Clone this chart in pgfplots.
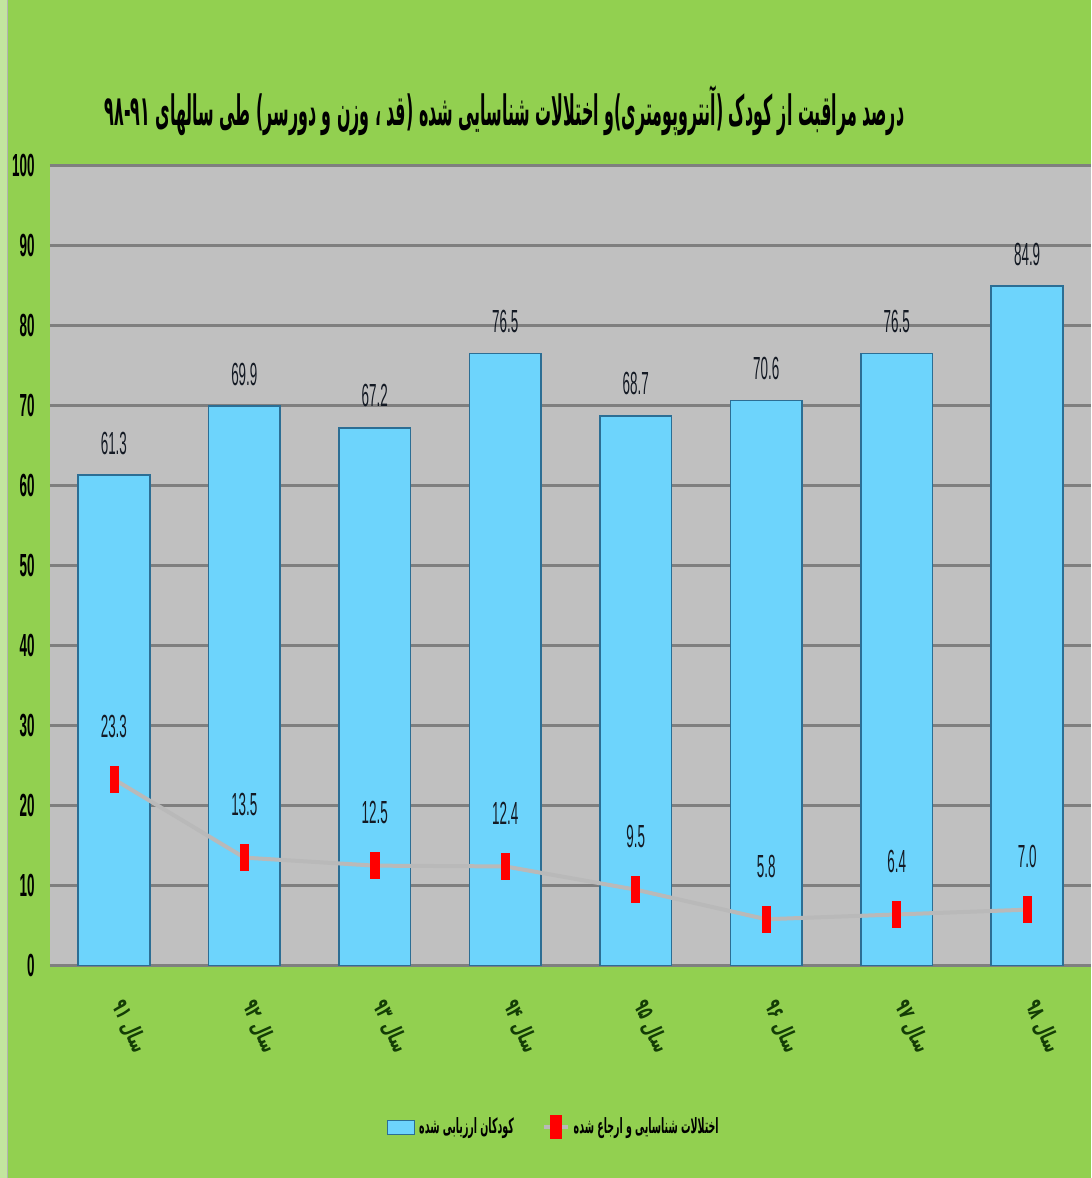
\documentclass[border=0pt]{standalone}
\usepackage{graphicx}
\usepackage{pgfplots}
\usepackage{pgfplotstable}
\pgfplotsset{compat=1.18}
\usepackage{fontspec}
\setmainfont{Liberation Sans}
\newfontfamily\numfont{Liberation Sans}[FakeStretch=0.42]
\newfontfamily\arabicfont[Script=Arabic]{DejaVu Sans}
\newfontfamily\arabicnarrow[Script=Arabic,FakeStretch=0.62]{DejaVu Sans}
\newfontfamily\legendfont[Script=Arabic,FakeStretch=0.45]{DejaVu Sans}
\TeXXeTstate=1

\definecolor{bggreen}{HTML}{92D050}
\definecolor{plotgray}{HTML}{C0C0C0}
\definecolor{gridgray}{HTML}{7F7F7F}
\definecolor{barblue}{HTML}{6DD4FC}
\definecolor{baredge}{HTML}{2C6E94}
\definecolor{linegray}{HTML}{B9B9B9}
\definecolor{labgreen}{HTML}{143D06}
\definecolor{numdark}{HTML}{141A24}

% x: year index, bars: children assessed (%), line: disorders found and referred (%)
\pgfplotstableread{
x bars line
0 61.3 23.3
1 69.9 13.5
2 67.2 12.5
3 76.5 12.4
4 68.7 9.5
5 70.6 5.8
6 76.5 6.4
7 84.9 7.0
}\datatable

\begin{document}
\begin{tikzpicture}
\fill[bggreen] (0,0) rectangle (546pt,589pt);
\fill[white!45!bggreen] (0,0) rectangle (3.5pt,589pt);
\draw[gray!60, line width=0.5pt] (4pt,0) -- (4pt,589pt);
\useasboundingbox (0,0) rectangle (546pt,589pt);
\begin{axis}[
  at={(25pt,106pt)}, anchor=south west,
  width=521pt, height=400.5pt, scale only axis,
  xmin=-0.49, xmax=7.49, ymin=0, ymax=100,
  ytick={0,10,...,100},
  xtick={0,...,7},
  xticklabels={
    {\beginR سال \beginL۹۱\endL\endR},
    {\beginR سال \beginL۹۲\endL\endR},
    {\beginR سال \beginL۹۳\endL\endR},
    {\beginR سال \beginL۹۴\endL\endR},
    {\beginR سال \beginL۹۵\endL\endR},
    {\beginR سال \beginL۹۶\endL\endR},
    {\beginR سال \beginL۹۷\endL\endR},
    {\beginR سال \beginL۹۸\endL\endR}},
  axis line style={draw=none},
  major tick length=0pt,
  ymajorgrids,
  major grid style={gridgray, line width=1.2pt},
  axis background/.style={fill=plotgray},
  /pgf/number format/assume math mode=true,
  yticklabel style={font=\numfont\bfseries\fontsize{16}{18}\selectfont,
    inner sep=0pt, xshift=-7.5pt, text=black},
  xticklabel style={font=\arabicnarrow\bfseries\fontsize{11.5}{13}\selectfont,
    text=labgreen, inner sep=0pt, xshift=2pt, yshift=-18pt, rotate=-66, anchor=west},
  legend style={at={(0.485,-0.202)}, anchor=center, draw=none, fill=none,
    legend columns=2,
    font=\legendfont\bfseries\fontsize{10.5}{12}\selectfont,
    /tikz/every even column/.append style={column sep=12pt}},
  clip=false,
]
\addplot[ybar, bar width=0.55, fill=barblue, draw=baredge, line width=0.8pt,
  nodes near coords={\pgfmathprintnumber[fixed,fixed zerofill,precision=1]{\pgfplotspointmeta}},
  every node near coord/.append style={font=\numfont\fontsize{16}{18}\selectfont,
    text=numdark, anchor=center, yshift=16pt},
  legend image code/.code={\fill[barblue, draw=baredge, line width=0.6pt] (0pt,-3.5pt) rectangle (13.5pt,3.5pt);}]
  table[x=x, y=bars] {\datatable};
\addlegendentry{\beginR کودکان ارزیابی شده\endR}
\addplot[linegray, line width=2pt, mark=square*, mark size=6.5pt,
  mark options={xscale=0.31, fill=red, draw=red, line width=0.3pt},
  nodes near coords={\pgfmathprintnumber[fixed,fixed zerofill,precision=1]{\pgfplotspointmeta}},
  every node near coord/.append style={font=\numfont\fontsize{16}{18}\selectfont,
    text=numdark, anchor=center, yshift=26.5pt},
  legend image code/.code={\draw[linegray, line width=2pt] (0pt,0pt) -- (12pt,0pt);
    \fill[red] (4pt,-5pt) rectangle (8pt,5pt);}]
  table[x=x, y=line] {\datatable};
\addlegendentry{\beginR اختلالات شناسایی و ارجاع شده\endR}
\end{axis}
\node[font=\arabicfont\bfseries\fontsize{24}{28}\selectfont, text=black, inner sep=0pt]
  at (252.5pt,534pt)
  {\resizebox{400pt}{20pt}{\beginR درصد مراقبت از کودک (آنتروپومتری)و اختلالات شناسایی شده (قد ، وزن و دورسر) طی سالهای ۹۸-۹۱\endR}};
\end{tikzpicture}
\end{document}
